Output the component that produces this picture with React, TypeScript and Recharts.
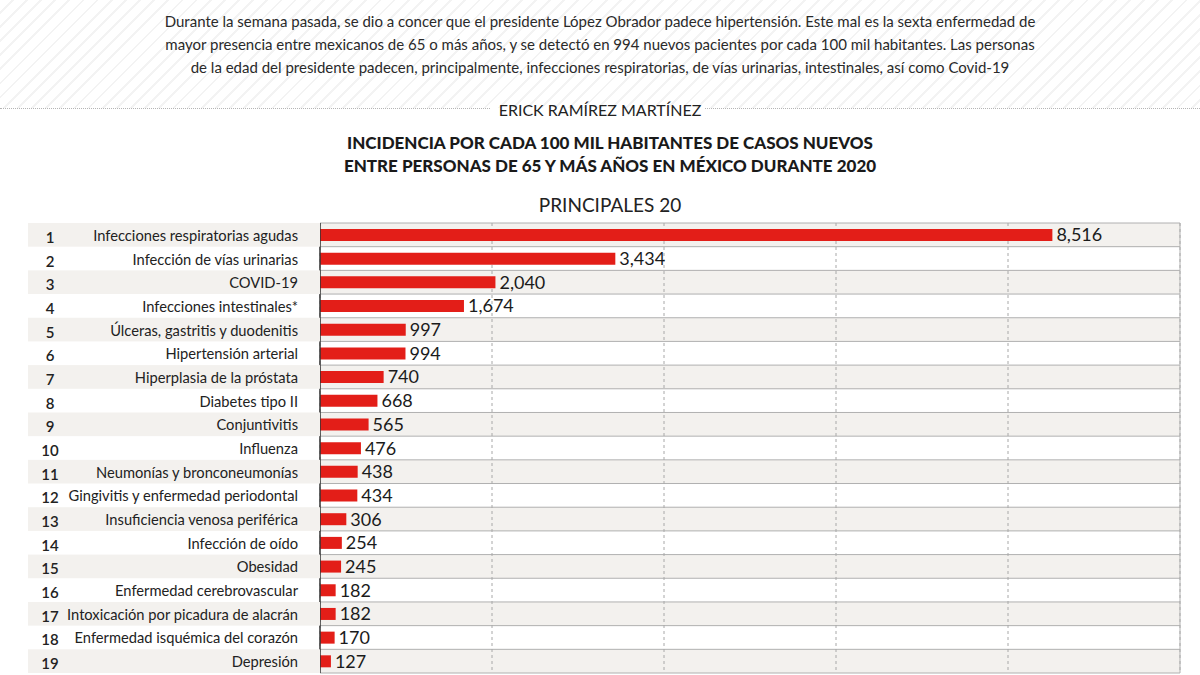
import React from 'react';
import { BarChart, Bar, XAxis, YAxis, CartesianGrid, LabelList, ReferenceLine } from 'recharts';

const ranks = ['1', '2', '3', '4', '5', '6', '7', '8', '9', '10', '11', '12', '13', '14', '15', '16', '17', '18', '19'];
const categories = [
  'Infecciones respiratorias agudas',
  'Infección de vías urinarias',
  'COVID-19',
  'Infecciones intestinales*',
  'Úlceras, gastritis y duodenitis',
  'Hipertensión arterial',
  'Hiperplasia de la próstata',
  'Diabetes tipo II',
  'Conjuntivitis',
  'Influenza',
  'Neumonías y bronconeumonías',
  'Gingivitis y enfermedad periodontal',
  'Insuficiencia venosa periférica',
  'Infección de oído',
  'Obesidad',
  'Enfermedad cerebrovascular',
  'Intoxicación por picadura de alacrán',
  'Enfermedad isquémica del corazón',
  'Depresión',
];
const values = [8516, 3434, 2040, 1674, 997, 994, 740, 668, 565, 476, 438, 434, 306, 254, 245, 182, 182, 170, 127];
const xTicks = [0, 2000, 4000, 6000, 8000, 10000];

const introLines = [
  'Durante la semana pasada, se dio a concer que el presidente López Obrador padece hipertensión. Este mal es la sexta enfermedad de',
  'mayor presencia entre mexicanos de 65 o más años, y se detectó en 994 nuevos pacientes por cada 100 mil habitantes. Las personas',
  'de la edad del presidente padecen, principalmente, infecciones respiratorias, de vías urinarias, intestinales, así como Covid-19',
];
const author = 'ERICK RAMÍREZ MARTÍNEZ';
const titleLines = [
  'INCIDENCIA POR CADA 100 MIL HABITANTES DE CASOS NUEVOS',
  'ENTRE PERSONAS DE 65 Y MÁS AÑOS EN MÉXICO DURANTE 2020',
];
const subtitle = 'PRINCIPALES 20';

const data = categories.map((name, i) => ({ name, rank: ranks[i], value: values[i] }));

const FONT = 'Lato, "Noto Sans", sans-serif';
const W = 1200;
const H = 675;
const M = { top: 223, right: 20, bottom: 2, left: 28 };
const AXIS_W = 292;
const ROW_H = (H - M.top - M.bottom) / categories.length;
const BAND = '#f3f1ee';

const CategoryTick = (props: any) => {
  const { y, payload, index } = props;
  const d = data[index] || data.find((e) => e.name === payload.value);
  return (
    <g>
      {index % 2 === 0 && (
        <rect x={M.left} y={y - ROW_H / 2} width={AXIS_W} height={ROW_H} fill={BAND} />
      )}
      <text x={50} y={y + 2} textAnchor="middle" dominantBaseline="central" fontSize={15} fontWeight={600} fill="#222" fontFamily={FONT}>
        {d ? d.rank : ''}
      </text>
      <text x={298} y={y} textAnchor="end" dominantBaseline="central" fontSize={14.7} fill="#222" fontFamily={FONT}>
        {payload.value}
      </text>
    </g>
  );
};

const rowLines = ({ offset }: any) => {
  const n = categories.length;
  const arr: number[] = [];
  for (let i = 0; i <= n; i++) arr.push(offset.top + (i * offset.height) / n);
  return arr;
};

export default function App() {
  return (
    <div style={{ position: 'absolute', left: 0, top: 0, width: W, height: H, overflow: 'hidden', background: '#fff', fontFamily: FONT }}>
      <div
        style={{
          position: 'absolute', left: 0, top: 0, width: W, height: 108,
          background: 'repeating-linear-gradient(135deg, #ffffff 0px, #ffffff 8px, #f3f3f3 8px, #f3f3f3 10px)',
        }}
      />
      <div style={{ position: 'absolute', left: 0, top: 10, width: W, textAlign: 'center', fontSize: 15, lineHeight: '23px', color: '#2a2a2a' }}>
        {introLines.map((l, i) => (
          <div key={i}>{l}</div>
        ))}
      </div>
      <div style={{ position: 'absolute', left: 0, top: 108, width: 490, borderTop: '1px dotted #b5b5b5' }} />
      <div style={{ position: 'absolute', left: 705, top: 108, width: 495, borderTop: '1px dotted #b5b5b5' }} />
      <div style={{ position: 'absolute', left: 0, top: 99, width: W, textAlign: 'center', fontSize: 16, lineHeight: '22px', color: '#222' }}>
        {author}
      </div>
      <div style={{ position: 'absolute', left: 10, top: 131, width: W, textAlign: 'center', fontSize: 17, lineHeight: '23px', fontWeight: 900, color: '#1a1a1a' }}>
        {titleLines.map((l, i) => (
          <div key={i}>{l}</div>
        ))}
      </div>
      <div style={{ position: 'absolute', left: 10, top: 193, width: W, textAlign: 'center', fontSize: 19, lineHeight: '24px', color: '#222' }}>
        {subtitle}
      </div>
      <div style={{ position: 'absolute', left: 0, top: 0 }}>
        <BarChart width={W} height={H} data={data} layout="vertical" margin={M} barCategoryGap={0}>
          <CartesianGrid
            vertical={false}
            horizontal={true}
            stroke="#b0b0b0"
            horizontalCoordinatesGenerator={rowLines}
            horizontalFill={[BAND, '#ffffff']}
          />
          <CartesianGrid horizontal={false} vertical={true} stroke="#a8a8a8" strokeDasharray="3 3" />
          <XAxis type="number" domain={[0, 10000]} ticks={xTicks} hide />
          <YAxis
            type="category"
            dataKey="name"
            width={AXIS_W}
            axisLine={{ stroke: '#333', strokeWidth: 1.5 }}
            tickLine={false}
            tick={<CategoryTick />}
            interval={0}
          />
          <ReferenceLine x={10000} stroke="#b0b0b0" />
          <Bar dataKey="value" fill="#e31e18" barSize={12} isAnimationActive={false}>
            <LabelList
              dataKey="value"
              position="right"
              offset={4}
              formatter={(v: any) => Number(v).toLocaleString('en-US')}
              style={{ fontSize: 18, fill: '#1b1b1b', fontFamily: FONT }}
            />
          </Bar>
        </BarChart>
      </div>
    </div>
  );
}
